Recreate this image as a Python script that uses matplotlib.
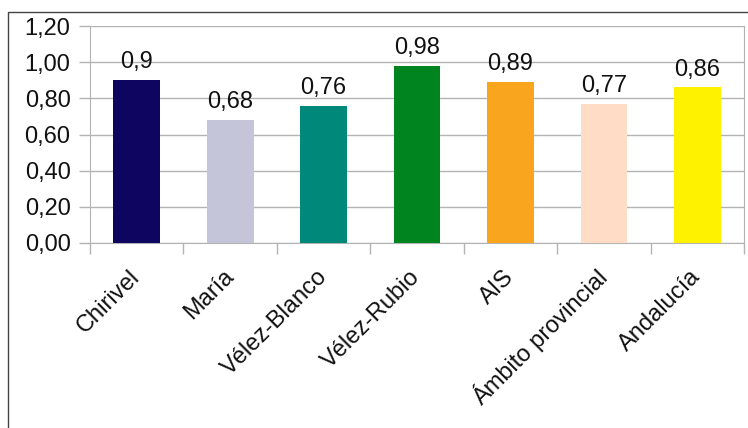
import matplotlib
matplotlib.use("Agg")
import matplotlib.pyplot as plt
from matplotlib.patches import Rectangle

categories = ["Chirivel", "María", "Vélez-Blanco", "Vélez-Rubio", "AIS",
              "Ámbito provincial", "Andalucía"]
values = [0.9, 0.68, 0.76, 0.98, 0.89, 0.77, 0.86]
labels = ["0,9", "0,68", "0,76", "0,98", "0,89", "0,77", "0,86"]
colors = ["#0e0560", "#c5c5da", "#00887a", "#00841f", "#f9a51e", "#ffdcc6", "#fff200"]
yticks = [0.0, 0.2, 0.4, 0.6, 0.8, 1.0, 1.2]
yticklabels = ["0,00", "0,20", "0,40", "0,60", "0,80", "1,00", "1,20"]

plt.rcParams['font.family'] = ['Liberation Sans', 'DejaVu Sans']
FS = 17

W, H = 748, 428
fig = plt.figure(figsize=(W / 100, H / 100), dpi=100)
fig.patches.append(Rectangle((8 / W, -0.01), 1.0, (H - 12) / H + 0.01,
                             transform=fig.transFigure, fill=False,
                             edgecolor="#444444", linewidth=1.0))

ax = fig.add_axes([90 / W, (H - 243) / H, (744 - 90) / W, (243 - 26) / H])
x = list(range(len(categories)))
ax.bar(x, values, width=0.5, color=colors, zorder=3)
for xi, v, lab in zip(x, values, labels):
    ax.annotate(lab, (xi, v), xytext=(0, 5), textcoords="offset points",
                ha="center", va="bottom", fontsize=FS, color="#111111", zorder=4)

ax.set_xlim(-0.5, len(categories) - 0.5)
ax.set_ylim(0, 1.2)
ax.set_yticks(yticks)
ax.set_yticklabels(yticklabels, fontsize=FS, color="#111111")
ax.set_xticks(x)
ax.set_xticklabels(categories, rotation=45, ha="right", va="center",
                   rotation_mode="anchor", fontsize=FS, color="#111111")
ax.tick_params(axis="x", length=0, pad=22)
ax.tick_params(axis="y", length=8, color="#b3b3b3", width=1, pad=6)
ax.set_xticks([i - 0.5 for i in range(len(categories) + 1)], minor=True)
ax.tick_params(axis="x", which="minor", length=8, color="#b3b3b3", width=1)
ax.grid(axis="y", color="#b3b3b3", linewidth=1, zorder=0)
ax.spines["top"].set_visible(False)
ax.spines["left"].set_color("#b3b3b3")
ax.spines["bottom"].set_color("#b3b3b3")
ax.spines["right"].set_color("#b3b3b3")

fig.savefig("out.png", dpi=100)
